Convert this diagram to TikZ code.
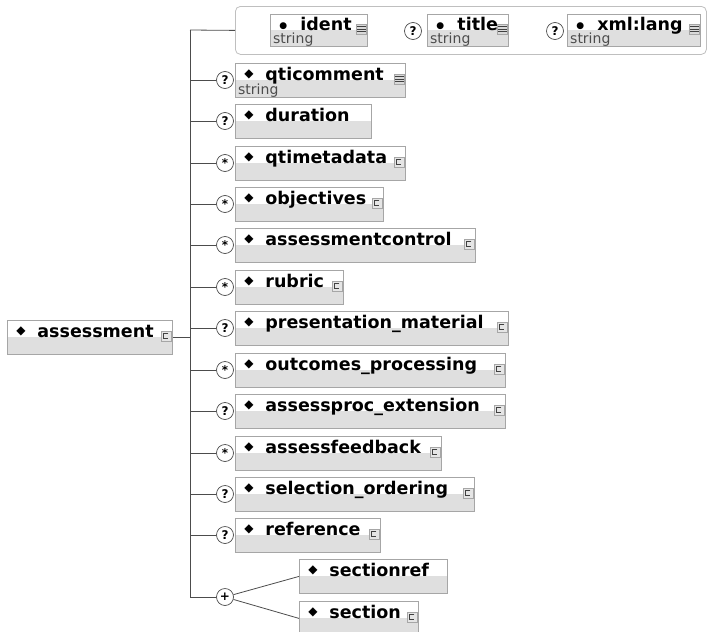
\documentclass[tikz,border=0pt]{standalone}
\usepackage{fontspec}
\setmainfont{DejaVu Sans}
\usetikzlibrary{calc}

\newcommand{\dia}{\makebox[22pt][l]{\hspace{1pt}\raisebox{3pt}{\fontsize{12}{12}\selectfont ◆}}}
\newcommand{\bul}{\makebox[22pt][l]{\hspace{1pt}\raisebox{2pt}{\fontsize{9}{9}\selectfont ●}}}

\tikzset{
  elem/.style={draw=gray!70, line width=0.8pt, fill=white, anchor=north west,
    inner xsep=8pt, inner ysep=2pt, text height=15pt, text depth=15pt, align=left,
    font=\fontsize{17.5}{17.5}\selectfont\bfseries,
    path picture={\fill[gray!25] (path picture bounding box.west)
      rectangle (path picture bounding box.south east);}},
  attr/.style={elem, text height=14pt, text depth=14pt},
  group/.style={draw=gray!50, line width=0.8pt, rounded corners=5pt, anchor=north west,
    minimum width=471pt, minimum height=48pt, inner sep=0pt},
  card/.style={circle, draw=gray!60!black, fill=white, line width=0.7pt,
    minimum size=17pt, inner sep=0pt, font=\fontsize{12}{12}\selectfont\bfseries},
  conn/.style={draw=gray!60!black, line width=0.8pt},
  sub/.style={anchor=base west, inner sep=0pt, text=gray!60!black,
    font=\fontsize{14}{14}\selectfont},
  cicon/.style={draw=gray!70, fill=gray!20, line width=0.6pt, minimum size=10pt,
    inner sep=0pt, path picture={
      \draw[gray!50!black, line width=0.6pt]
        ($(path picture bounding box.center)+(2.5,-2.5)$) -- ++(-5,0) -- ++(0,5) -- ++(5,0);}},
  sicon/.style={draw=gray!70, fill=gray!30, line width=0.6pt, minimum size=10pt,
    inner sep=0pt, path picture={
      \foreach \k in {-2.5,0,2.5}
        \draw[gray!50!black, line width=0.7pt]
          ($(path picture bounding box.west)+(0,\k)$) -- ++(10,0);}},
  noicon/.style={inner sep=0pt, minimum size=0pt}
}

\begin{document}
\begin{tikzpicture}[x=1pt, y=-1pt]
  \useasboundingbox (0,0) rectangle (707,632);

  \coordinate (trunktop) at (190,30);
  \coordinate (trunkbot) at (190,597);

  % root element
  \node[elem, text width=149] (assessment) at (7,320) {\dia assessment};
  \node[cicon] (assessment-i) at ($(assessment.north east)+(-7,16)$) {};
  \draw[conn] (assessment.east) -- (assessment.east -| trunktop);
  \draw[conn] (trunktop) -- (trunkbot);

  % attributes
  \node[group] (attrs) at (235,6) {};
  \draw[conn] (trunktop) -- (attrs.west);
  \node[attr, text width=81] (ident) at (270,14) {\bul ident};
  \node[attr, text width=65] (title) at (427,14) {\bul title};
  \node[attr, text width=117] (xmllang) at (567,14) {\bul xml:lang};
  \node[card] (title-c) at (413,31) {?};
  \node[card] (xmllang-c) at (555,31) {?};
  \foreach \nm in {ident,title,xmllang}{
    \node[sicon] (\nm-i) at ($(\nm.north east)+(-7,15)$) {};
    \node[sub] (\nm-s) at ($(\nm.south west)+(3,-3)$) {string};
  }

  % child elements
  \foreach \nm/\lbl/\yy/\ww/\card/\ico in {
      qticomment/qticomment/63/170/?/sicon,
      duration/duration/104/136/?/noicon,
      qtimetadata/qtimetadata/146/170/*/cicon,
      objectives/objectives/187/148/*/cicon,
      asscontrol/assessmentcontrol/228/240/*/cicon,
      rubric/rubric/270/108/*/cicon,
      presmat/presentation\_material/311/273/?/cicon,
      outproc/outcomes\_processing/353/270/*/cicon,
      procext/assessproc\_extension/394/270/?/cicon,
      feedback/assessfeedback/436/206/*/cicon,
      selorder/selection\_ordering/477/239/?/cicon,
      reference/reference/518/145/?/cicon}{
    \node[elem, text width={\ww-16}] (\nm) at (235,\yy) {\dia \lbl};
    \node[\ico] (\nm-i) at ($(\nm.north east)+(-7,16)$) {};
    \node[card] (\nm-c) at (225,\yy+17) {\card};
    \draw[conn] (trunktop |- \nm-c) -- (\nm-c);
  }
  \node[sub] (qticomment-s) at ($(qticomment.south west)+(3,-3)$) {string};

  % choice
  \node[elem, text width=132] (sectionref) at (299,559) {\dia sectionref};
  \node[elem, text width=103] (section) at (299,601) {\dia section};
  \node[cicon] (section-i) at ($(section.north east)+(-7,16)$) {};
  \node[card] (choice) at (225,597) {+};
  \draw[conn] (trunkbot) -- (choice);
  \draw[conn] (choice) -- (sectionref.west);
  \draw[conn] (choice) -- (section.west);
\end{tikzpicture}
\end{document}
